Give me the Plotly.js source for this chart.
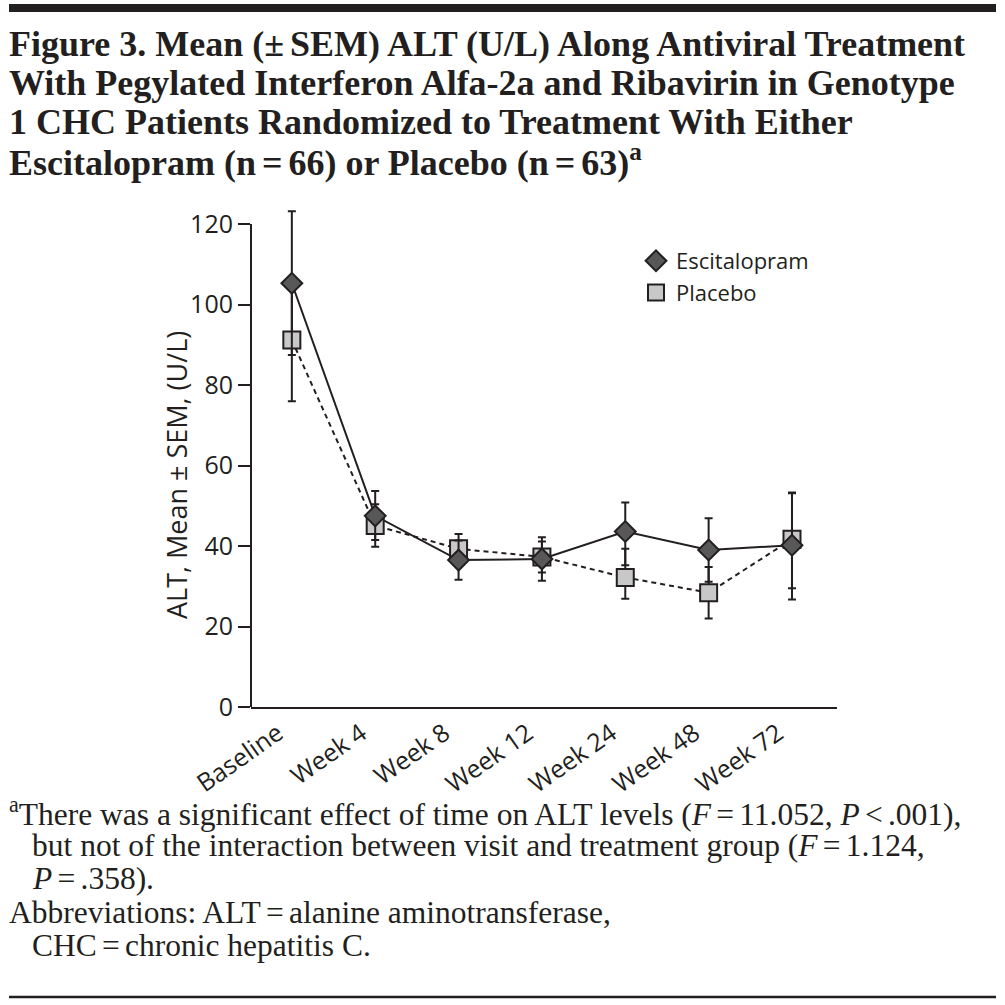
<!DOCTYPE html>
<html>
<head>
<meta charset="utf-8">
<script src="https://cdn.plot.ly/plotly-3.0.1.min.js"></script>
<style>html,body{margin:0;padding:0;background:#fff;}#chart{width:1005px;height:1005px;}</style>
</head>
<body>
<div id="chart"></div>
<script>
// ---- data ----
const visits = ["Baseline", "Week 4", "Week 8", "Week 12", "Week 24", "Week 48", "Week 72"];
const escitalopramMean = [105.3, 47.5, 36.5, 36.8, 43.6, 39.0, 40.2];
const escitalopramSemPlus = [17.9, 6.2, 4.9, 5.4, 7.2, 7.9, 12.9];
const escitalopramSemMinus = [17.8, 6.0, 4.9, 5.4, 8.4, 7.9, 13.5];
const placeboMean = [91.2, 45.1, 39.3, 37.3, 32.2, 28.4, 41.7];
const placeboSemPlus = [15.0, 5.3, 3.7, 3.8, 7.1, 6.4, 11.6];
const placeboSemMinus = [15.2, 5.3, 3.7, 3.9, 5.3, 6.4, 12.2];
const yTicks = [0, 20, 40, 60, 80, 100, 120];
const yAxisMax = 120;

const sp = "\u2006";
const titleLines = [
  "Figure 3. Mean (±" + sp + "SEM) ALT (U/L) Along Antiviral Treatment",
  "With Pegylated Interferon Alfa-2a and Ribavirin in Genotype",
  "1 CHC Patients Randomized to Treatment With Either",
  "Escitalopram (n" + sp + "=" + sp + "66) or Placebo (n" + sp + "=" + sp + "63)<sup>a</sup>"
];
const footLines = [
  "<sup>a</sup>There was a significant effect of time on ALT levels (<i>F</i>" + sp + "=" + sp + "11.052, <i>P</i>" + sp + "&lt;" + sp + ".001),",
  "but not of the interaction between visit and treatment group (<i>F</i>" + sp + "=" + sp + "1.124,",
  "<i>P</i>" + sp + "=" + sp + ".358).",
  "Abbreviations: ALT" + sp + "=" + sp + "alanine aminotransferase,",
  "CHC" + sp + "=" + sp + "chronic hepatitis C."
];
const yTitle = "ALT, Mean ± SEM, (U/L)";

// ---- layout geometry (pixels -> paper) ----
const L = 251, R = 837, T = 204, B = 707;   // plot area spans y range [0,125]
const px = x => (x - L) / (R - L);
const py = y => (B - y) / (B - T);

const sans = "Open Sans, sans-serif";
const serif = "Liberation Serif, Times New Roman, serif";
const ink = "#231f20";

const traces = [
  { x: visits, y: placeboMean, mode: "lines", showlegend: false, hoverinfo: "skip",
    line: { color: ink, width: 2, dash: "5px,4px" } },
  { x: visits, y: escitalopramMean, mode: "lines", showlegend: false, hoverinfo: "skip",
    line: { color: ink, width: 2 } },
  { x: visits, y: placeboMean, mode: "markers", name: "Placebo", legendrank: 2,
    marker: { symbol: "square", size: 17, color: "#c8c8c8", line: { color: ink, width: 2 } },
    error_y: { type: "data", array: placeboSemPlus, arrayminus: placeboSemMinus, symmetric: false,
      color: ink, thickness: 2, width: 4 } },
  { x: visits, y: escitalopramMean, mode: "markers", name: "Escitalopram", legendrank: 1,
    marker: { symbol: "diamond", size: 16, color: "#585858", line: { color: ink, width: 2 } },
    error_y: { type: "data", array: escitalopramSemPlus, arrayminus: escitalopramSemMinus, symmetric: false,
      color: ink, thickness: 2, width: 4 } }
];

const annotations = [];
const titleY = [44, 83, 122, 161];
titleLines.forEach((t, i) => annotations.push({
  text: t, xref: "paper", yref: "paper", x: px(7), y: py(titleY[i]),
  xanchor: "left", yanchor: "middle", showarrow: false,
  font: { family: serif, size: 36, color: ink, weight: "bold" }
}));
const footY = [812, 845, 878, 912, 945];
const footX = [7, 30, 30, 7, 30];
footLines.forEach((t, i) => annotations.push({
  text: t, xref: "paper", yref: "paper", x: px(footX[i]), y: py(footY[i]),
  xanchor: "left", yanchor: "middle", showarrow: false,
  font: { family: serif, size: 31.5, color: ink }
}));
annotations.push({
  text: yTitle, xref: "paper", yref: "paper", x: px(176), y: py(475),
  xanchor: "center", yanchor: "middle", textangle: -90, showarrow: false,
  font: { family: sans, size: 27, color: ink }
});

const shapes = [
  { type: "line", xref: "paper", yref: "paper", x0: px(9), x1: px(996), y0: py(8), y1: py(8),
    line: { color: ink, width: 8 } },
  { type: "line", xref: "paper", yref: "paper", x0: px(9), x1: px(996), y0: py(997), y1: py(997),
    line: { color: ink, width: 2.5 } },
  // y axis line from 0 to 120
  { type: "line", xref: "paper", yref: "y", x0: 0, x1: 0, y0: 0, y1: yAxisMax,
    line: { color: ink, width: 2 } }
];

const layout = {
  width: 1005, height: 1005,
  margin: { l: L, r: 1005 - R, t: T, b: 1005 - B, pad: 0 },
  paper_bgcolor: "#fff", plot_bgcolor: "#fff",
  showlegend: true,
  legend: { x: px(636), y: py(240), xanchor: "left", yanchor: "top",
    font: { family: sans, size: 22, color: ink }, bgcolor: "rgba(0,0,0,0)",
    tracegroupgap: 0, itemwidth: 30 },
  xaxis: {
    type: "category", range: [-0.49, 6.54], showgrid: false, zeroline: false,
    showline: true, linecolor: ink, linewidth: 2, ticks: "", tickangle: -35,
    ticklabelshift: -14, ticklabelstandoff: 0,
    tickfont: { family: sans, size: 25, color: ink }, automargin: false
  },
  yaxis: {
    range: [0, 125], tickvals: yTicks, showgrid: false, zeroline: false,
    showline: false, ticks: "outside", ticklen: 12, tickwidth: 2, tickcolor: ink,
    tickfont: { family: sans, size: 25, color: ink }, automargin: false
  },
  annotations: annotations,
  shapes: shapes
};

Plotly.newPlot("chart", traces, layout, { displayModeBar: false, staticPlot: true });
</script>
</body>
</html>
